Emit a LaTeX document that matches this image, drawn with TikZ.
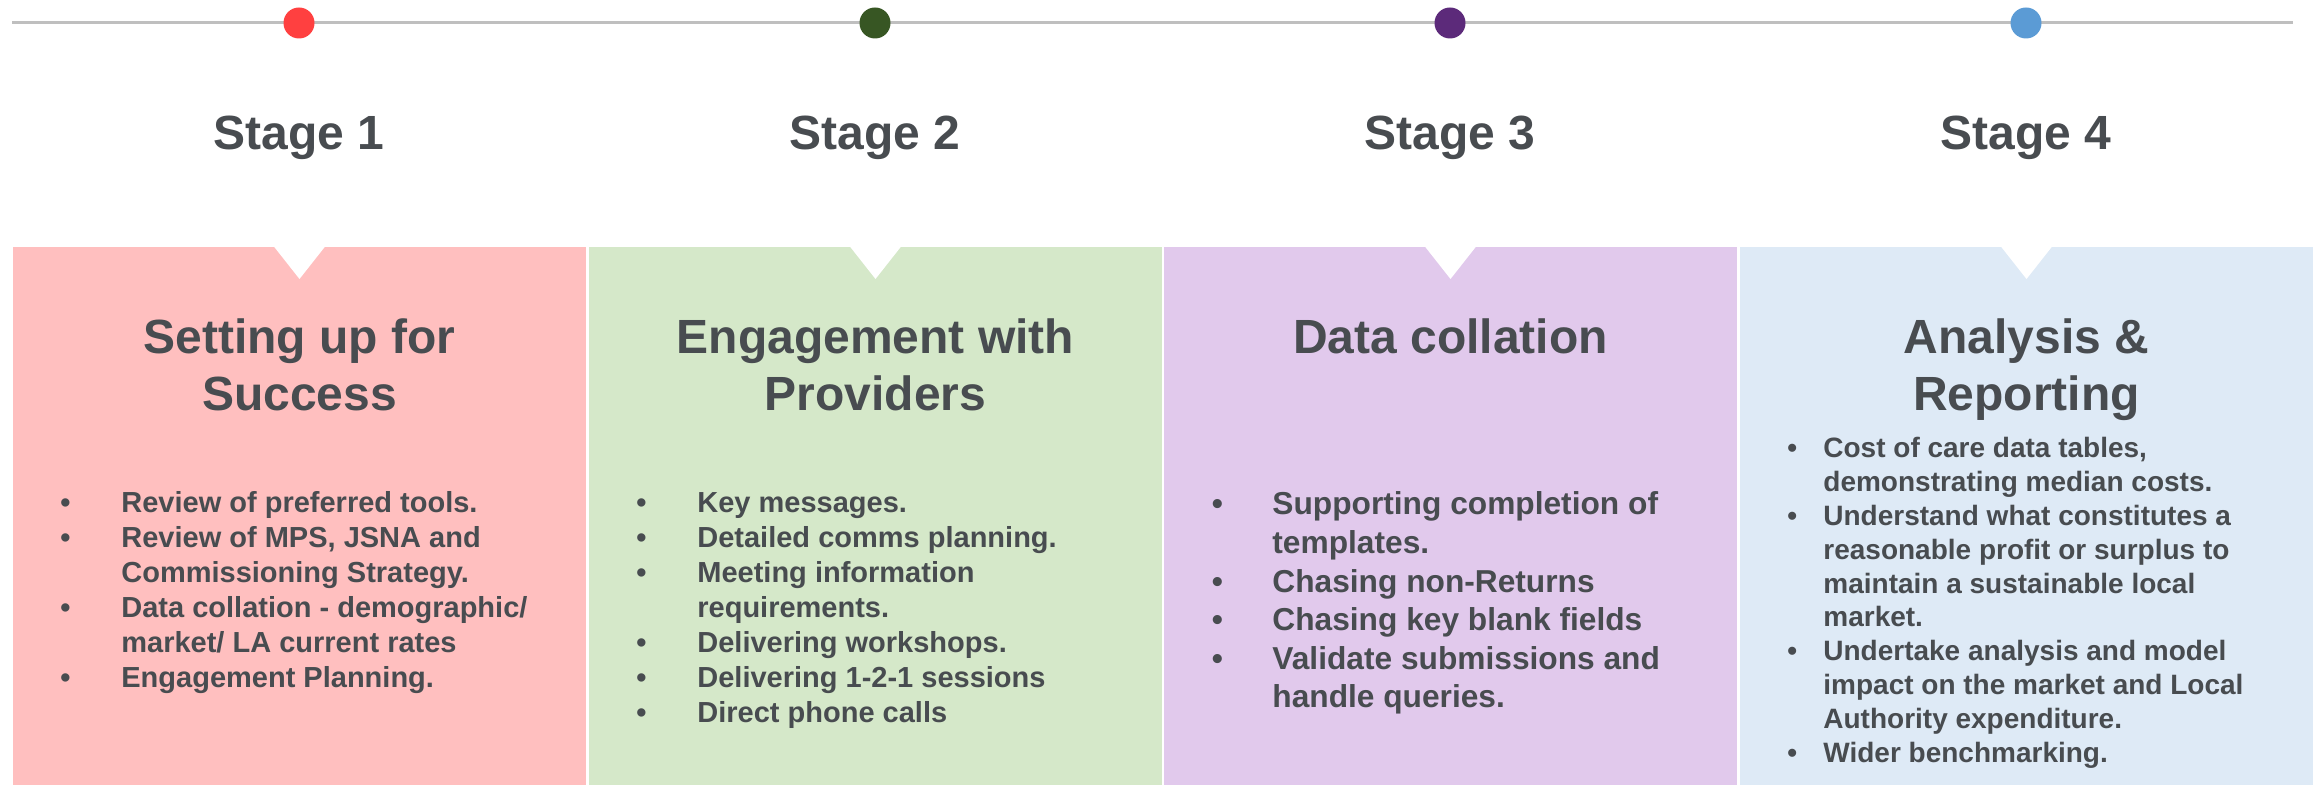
\documentclass[tikz,border=0pt]{standalone}
\usepackage{fontspec}
\setmainfont{Liberation Sans}
\usepackage{array}

\definecolor{ink}{HTML}{484C50}
\definecolor{rail}{HTML}{BFBFBF}
\definecolor{dotA}{HTML}{FF4040}
\definecolor{dotB}{HTML}{375623}
\definecolor{dotC}{HTML}{5C2A7A}
\definecolor{dotD}{HTML}{5B9BD5}
\definecolor{panelA}{HTML}{FFBFBF}
\definecolor{panelB}{HTML}{D5E8C9}
\definecolor{panelC}{HTML}{E1C9EC}
\definecolor{panelD}{HTML}{DEEAF6}

% bullet list: #1 bullet column width, #2 font size, #3 line skip, #4 rows
\newcommand{\bulletlist}[4]{%
  \fontsize{#2}{#3}\selectfont\bfseries
  \begin{tabular}[t]{@{}p{#1}@{}l@{}}#4\end{tabular}}
\newcommand{\pt}{\textbullet}

\begin{document}
\begin{tikzpicture}[x=0.5pt,y=-0.5pt,
  panel/.style={fill=#1, draw=none, inner sep=0, anchor=north west,
    minimum width=286.5pt, minimum height=269pt},
  stagedot/.style={circle, fill=#1, draw=none, inner sep=0, minimum size=15.5pt},
  stagelabel/.style={anchor=base, inner sep=0, text=ink,
    font=\bfseries\fontsize{24}{28}\selectfont},
  paneltitle/.style={anchor=base, inner sep=0, text=ink,
    font=\bfseries\fontsize{24}{28.5}\selectfont},
  items/.style={anchor=base west, inner sep=0, text=ink},
  notch/.style={fill=white, draw=none}
]
\useasboundingbox (0,0) rectangle (2320,785);

% timeline rail
\coordinate (railL) at (12,23);
\coordinate (railR) at (2293,23);
\draw[rail, line width=1.5pt] (railL) -- (railR);

% stage markers
\node[stagedot=dotA] (d1) at (299,23) {};
\node[stagedot=dotB] (d2) at (875,23) {};
\node[stagedot=dotC] (d3) at (1450,23) {};
\node[stagedot=dotD] (d4) at (2026,23) {};

% stage labels
\node[stagelabel] (s1) at (299,150) {Stage 1};
\node[stagelabel] (s2) at (875,150) {Stage 2};
\node[stagelabel] (s3) at (1450,150) {Stage 3};
\node[stagelabel] (s4) at (2026,150) {Stage 4};

% coloured panels
\node[panel=panelA] (p1) at (13,247) {};
\node[panel=panelB] (p2) at (589,247) {};
\node[panel=panelC] (p3) at (1164,247) {};
\node[panel=panelD] (p4) at (1740,247) {};

% pointer notches cut into the panel tops
\foreach \c in {299.5,875.5,1450.5,2026.5}{
  \fill[notch] (\c-26,246) -- (\c,279) -- (\c+26,246) -- cycle;
}

% panel headings
\node[paneltitle] (t1) at (299.5,354) {\begin{tabular}[t]{@{}c@{}}Setting up for\\Success\end{tabular}};
\node[paneltitle] (t2) at (875.5,354) {\begin{tabular}[t]{@{}c@{}}Engagement with\\Providers\end{tabular}};
\node[paneltitle] (t3) at (1450.5,354) {Data collation};
\node[paneltitle] (t4) at (2026.5,354) {\begin{tabular}[t]{@{}c@{}}Analysis \&\\Reporting\end{tabular}};

% panel contents
\node[items] (l1) at (60,513) {\bulletlist{30.5pt}{14.5}{17.5}{%
  \pt & Review of preferred tools.\\
  \pt & Review of MPS, JSNA and\\
      & Commissioning Strategy.\\
  \pt & Data collation - demographic/\\
      & market/ LA current rates\\
  \pt & Engagement Planning.}};

\node[items] (l2) at (636,513) {\bulletlist{30.5pt}{14.5}{17.5}{%
  \pt & Key messages.\\
  \pt & Detailed comms planning.\\
  \pt & Meeting information\\
      & requirements.\\
  \pt & Delivering workshops.\\
  \pt & Delivering 1-2-1 sessions\\
  \pt & Direct phone calls}};

\node[items] (l3) at (1211.5,515) {\bulletlist{30.25pt}{15.85}{19.3}{%
  \pt & Supporting completion of\\
      & templates.\\
  \pt & Chasing non-Returns\\
  \pt & Chasing key blank fields\\
  \pt & Validate submissions and\\
      & handle queries.}};

\node[items] (l4) at (1787,458) {\bulletlist{18pt}{14}{16.9}{%
  \pt & Cost of care data tables,\\
      & demonstrating median costs.\\
  \pt & Understand what constitutes a\\
      & reasonable profit or surplus to\\
      & maintain a sustainable local\\
      & market.\\
  \pt & Undertake analysis and model\\
      & impact on the market and Local\\
      & Authority expenditure.\\
  \pt & Wider benchmarking.}};
\end{tikzpicture}
\end{document}
